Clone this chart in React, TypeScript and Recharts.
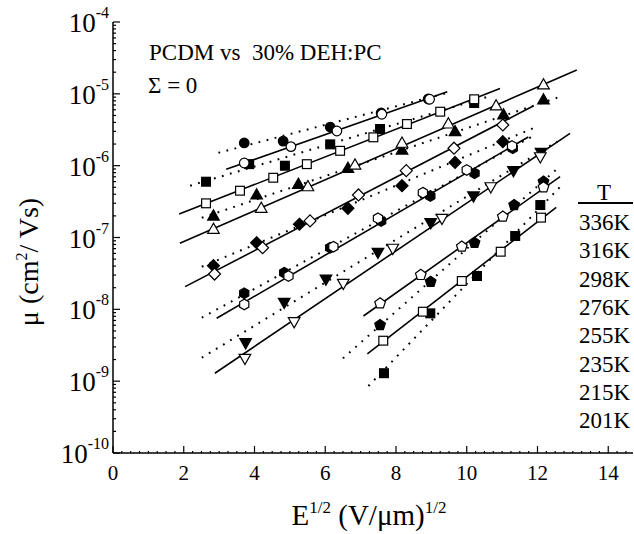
import React from 'react';
import { ScatterChart, Scatter, XAxis, YAxis } from 'recharts';

// axis ticks
const xTicks = [0, 2, 4, 6, 8, 10, 12, 14];
const yTicks = [1e-10, 1e-9, 1e-8, 1e-7, 1e-6, 1e-5, 1e-4];
const temps = ['336K', '316K', '298K', '276K', '255K', '235K', '215K', '201K'];

// [E^1/2, mobility] pairs; f = filled (dotted fit), o = open (solid fit)
const f336 = [[3.71, 2.07e-6], [4.81, 2.2e-6], [6.14, 3.45e-6], [7.58, 5.41e-6], [8.91, 8.47e-6]];
const o336 = [[3.71, 1.09e-6], [5.03, 1.84e-6], [6.33, 3.04e-6], [7.6, 5.19e-6], [8.95, 8.4e-6]];
const fitF336 = [[2.98, 1.51e-6], [9.48, 1.04e-5]];
const fitO336 = [[3.2, 8.89e-7], [9.45, 1.07e-5]];

const f316 = [[2.63, 5.98e-7], [3.85, 1.05e-6], [4.86, 9.98e-7], [6.14, 1.98e-6], [7.55, 3.24e-6], [10.21, 7.45e-6]];
const o316 = [[2.63, 2.99e-7], [3.59, 4.48e-7], [4.53, 6.79e-7], [5.48, 1.05e-6], [6.42, 1.61e-6], [7.36, 2.48e-6], [8.31, 3.8e-6], [9.25, 5.64e-6], [10.21, 8.4e-6]];
const fitF316 = [[2.18, 5.26e-7], [10.6, 9.12e-6]];
const fitO316 = [[1.87, 2.12e-7], [10.94, 1.19e-5]];

const f298 = [[2.84, 1.99e-7], [4.06, 3.91e-7], [5.24, 5.5e-7], [6.64, 9.18e-7], [8.17, 1.65e-6], [9.67, 2.97e-6], [11.04, 5.07e-6], [12.17, 8.2e-6]];
const o298 = [[2.84, 1.3e-7], [4.19, 2.55e-7], [5.51, 5.09e-7], [6.84, 1.02e-6], [8.17, 2.05e-6], [9.48, 3.8e-6], [10.83, 6.78e-6], [12.17, 1.33e-5]];
const fitF298 = [[2.51, 1.88e-7], [12.59, 8.95e-6]];
const fitO298 = [[1.89, 8.3e-8], [13.11, 2.15e-5]];

const f276 = [[2.84, 4.05e-8], [4.06, 8.45e-8], [5.27, 1.53e-7], [6.64, 2.55e-7], [8.17, 5.26e-7], [9.67, 1.11e-6], [11.02, 2.16e-6]];
const o276 = [[2.87, 3.1e-8], [4.23, 7.21e-8], [5.57, 1.7e-7], [6.94, 3.91e-7], [8.29, 8.51e-7], [9.64, 1.75e-6], [11.02, 3.68e-6]];
const fitF276 = [[2.51, 3.92e-8], [11.98, 3.48e-6]];
const fitO276 = [[2.04, 2.07e-8], [11.88, 6.78e-6]];

const f255 = [[3.71, 1.67e-8], [4.84, 3.24e-8], [6.14, 7.21e-8], [7.58, 1.7e-7], [8.97, 3.79e-7], [10.22, 7.83e-7], [11.3, 1.75e-6]];
const o255 = [[3.71, 1.17e-8], [4.96, 2.91e-8], [6.23, 7.45e-8], [7.49, 1.85e-7], [8.76, 4.21e-7], [10.0, 8.71e-7], [11.28, 1.88e-6]];
const fitF255 = [[2.51, 7.64e-9], [11.84, 2.53e-6]];
const fitO255 = [[2.93, 7.5e-9], [11.74, 2.51e-6]];

const f235 = [[3.75, 3.43e-9], [4.84, 1.25e-8], [6.02, 2.64e-8], [7.49, 6.22e-8], [8.98, 1.61e-7], [10.19, 3.79e-7], [11.32, 8.51e-7], [12.1, 1.53e-6]];
const o235 = [[3.73, 2.08e-9], [5.12, 6.73e-9], [6.51, 2.3e-8], [7.91, 7.08e-8], [9.3, 1.85e-7], [10.68, 5.09e-7], [12.08, 1.33e-6]];
const fitF235 = [[2.51, 2.12e-9], [12.55, 2.16e-6]];
const fitO235 = [[2.88, 1.29e-9], [12.92, 2.82e-6]];

const f215 = [[7.55, 6.05e-9], [8.98, 2.42e-8], [10.22, 8.45e-8], [11.34, 2.83e-7], [12.17, 5.98e-7]];
const o215 = [[7.55, 1.21e-8], [8.7, 3.01e-8], [9.86, 7.45e-8], [11.02, 1.95e-7], [12.17, 5.0e-7]];
const fitF215 = [[6.5, 2.08e-9], [12.58, 9.27e-7]];
const fitO215 = [[7.08, 8.07e-9], [12.64, 7.02e-7]];

const f201 = [[7.66, 1.29e-9], [8.97, 8.79e-9], [10.29, 2.91e-8], [11.37, 1.05e-7], [12.08, 2.83e-7]];
const o201 = [[7.64, 3.66e-9], [8.76, 9.27e-9], [9.86, 2.48e-8], [10.96, 6.34e-8], [12.1, 1.89e-7]];
const fitF201 = [[7.22, 8.55e-10], [12.69, 5.38e-7]];
const fitO201 = [[7.19, 2.39e-9], [12.53, 2.63e-7]];

const series = [
  { t: '336K', kind: 'circle', filled: f336, open: o336, fitF: fitF336, fitO: fitO336 },
  { t: '316K', kind: 'square', filled: f316, open: o316, fitF: fitF316, fitO: fitO316 },
  { t: '298K', kind: 'triUp', filled: f298, open: o298, fitF: fitF298, fitO: fitO298 },
  { t: '276K', kind: 'diamond', filled: f276, open: o276, fitF: fitF276, fitO: fitO276 },
  { t: '255K', kind: 'hexagon', filled: f255, open: o255, fitF: fitF255, fitO: fitO255 },
  { t: '235K', kind: 'triDown', filled: f235, open: o235, fitF: fitF235, fitO: fitO235 },
  { t: '215K', kind: 'pentagon', filled: f215, open: o215, fitF: fitF215, fitO: fitO215 },
  { t: '201K', kind: 'square', filled: f201, open: o201, fitF: fitF201, fitO: fitO201 },
];

const toPts = (arr: number[][]) => arr.map(([x, y]) => ({ x, y }));

const X_MAX = 14.7;
const FONT = "'Liberation Serif', 'Times New Roman', serif";

// minor ticks
const xMinor: number[] = [];
for (let v = 0; v <= X_MAX + 1e-9; v += 0.25) xMinor.push(Math.round(v * 100) / 100);
const yMinor: number[] = [];
yTicks.slice(0, -1).forEach((d) => {
  for (let m = 2; m <= 9; m++) yMinor.push(d * m);
});
const yAll = [...yTicks, ...yMinor].sort((a, b) => a - b);

const isMajorY = (v: number) => Math.abs(Math.log10(v) - Math.round(Math.log10(v))) < 1e-6;

const poly = (cx: number, cy: number, r: number, n: number, rot: number) =>
  Array.from({ length: n }, (_, i) => {
    const a = rot + (i * 2 * Math.PI) / n;
    return `${cx + r * Math.cos(a)},${cy + r * Math.sin(a)}`;
  }).join(' ');

const Marker = ({ cx, cy, kind, filled }: any) => {
  if (cx == null || cy == null) return null;
  const p = { fill: filled ? '#000' : '#fff', stroke: '#000', strokeWidth: 1.2 };
  switch (kind) {
    case 'circle':
      return <circle cx={cx} cy={cy} r={4.8} {...p} />;
    case 'square':
      return <rect x={cx - 4.4} y={cy - 4.4} width={8.8} height={8.8} {...p} />;
    case 'triUp':
      return <polygon points={`${cx},${cy - 6.2} ${cx + 5.8},${cy + 4} ${cx - 5.8},${cy + 4}`} {...p} />;
    case 'triDown':
      return <polygon points={`${cx},${cy + 6.2} ${cx + 5.8},${cy - 4} ${cx - 5.8},${cy - 4}`} {...p} />;
    case 'diamond':
      return <polygon points={`${cx},${cy - 6} ${cx + 6},${cy} ${cx},${cy + 6} ${cx - 6},${cy}`} {...p} />;
    case 'hexagon':
      return <polygon points={poly(cx, cy, 5.3, 6, -Math.PI / 2)} {...p} />;
    case 'pentagon':
      return <polygon points={poly(cx, cy, 5.6, 5, -Math.PI / 2)} {...p} />;
    default:
      return null;
  }
};

const BottomTick = ({ x, y, payload }: any) => {
  const v = payload.value;
  const major = xTicks.includes(v);
  return (
    <g>
      <line x1={x} x2={x} y1={y} y2={y - (major ? 7 : 2)} stroke="#000" strokeWidth={1.2} />
      {major && (
        <text x={x} y={y + 27} textAnchor="middle" fontSize={21} fontFamily={FONT} fill="#000">
          {v}
        </text>
      )}
    </g>
  );
};

const TopTick = ({ x, y }: any) => (
  <line x1={x} x2={x} y1={y} y2={y + 2} stroke="#000" strokeWidth={1} />
);

const LeftTick = ({ x, y, payload }: any) => {
  const v = payload.value;
  const major = isMajorY(v);
  return (
    <g>
      <line x1={x} x2={x + (major ? 7 : 3)} y1={y} y2={y} stroke="#000" strokeWidth={1.2} />
      {major && (
        <text x={x - 4} y={y + 10} textAnchor="end" fontSize={27} fontFamily={FONT} fill="#000">
          10
          <tspan dy={-14} fontSize={16}>
            {Math.round(Math.log10(v))}
          </tspan>
        </text>
      )}
    </g>
  );
};

const App = () => {
  return (
    <div style={{ position: 'absolute', left: 0, top: 0, width: 634, height: 534, background: '#fff' }}>
      <ScatterChart width={634} height={534} margin={{ top: 22, right: 1, bottom: 0, left: 0 }}>
        <XAxis
          dataKey="x"
          type="number"
          domain={[0, X_MAX]}
          ticks={xMinor}
          interval={0}
          allowDataOverflow
          tickLine={false}
          tickSize={0}
          tickMargin={0}
          tick={<BottomTick />}
          height={81}
          axisLine={{ stroke: '#000', strokeWidth: 1.5 }}
        />
        <XAxis
          xAxisId="top"
          orientation="top"
          type="number"
          domain={[0, X_MAX]}
          ticks={xMinor}
          interval={0}
          allowDataOverflow
          tickLine={false}
          tickSize={0}
          tickMargin={0}
          tick={<TopTick />}
          height={0}
          axisLine={{ stroke: '#000', strokeWidth: 1.5 }}
        />
        <YAxis
          dataKey="y"
          type="number"
          scale="log"
          domain={[1e-10, 1e-4]}
          ticks={yAll}
          interval={0}
          allowDataOverflow
          tickLine={false}
          tickSize={0}
          tickMargin={0}
          tick={<LeftTick />}
          width={113}
          axisLine={{ stroke: '#000', strokeWidth: 1.5 }}
        />
        {series.map((s) => (
          <Scatter
            key={`fitF-${s.t}`}
            data={toPts(s.fitF)}
            line={{ stroke: '#000', strokeWidth: 2, strokeDasharray: '1.8 6.5' }}
            shape={() => <g />}
            isAnimationActive={false}
          />
        ))}
        {series.map((s) => (
          <Scatter
            key={`fitO-${s.t}`}
            data={toPts(s.fitO)}
            line={{ stroke: '#000', strokeWidth: 1.6 }}
            shape={() => <g />}
            isAnimationActive={false}
          />
        ))}
        {series.map((s) => (
          <Scatter
            key={`f-${s.t}`}
            data={toPts(s.filled)}
            shape={(p: any) => <Marker cx={p.cx} cy={p.cy} kind={s.kind} filled />}
            isAnimationActive={false}
          />
        ))}
        {series.map((s) => (
          <Scatter
            key={`o-${s.t}`}
            data={toPts(s.open)}
            shape={(p: any) => <Marker cx={p.cx} cy={p.cy} kind={s.kind} filled={false} />}
            isAnimationActive={false}
          />
        ))}
      </ScatterChart>
      <svg
        width={634}
        height={534}
        style={{ position: 'absolute', left: 0, top: 0, pointerEvents: 'none' }}
        fontFamily={FONT}
      >
        <text x={149} y={60} fontSize={23} style={{ whiteSpace: 'pre' }}>
          PCDM vs  30% DEH:PC
        </text>
        <text x={148} y={93} fontSize={23}>
          Σ = 0
        </text>
        <text x={369} y={525} textAnchor="middle" fontSize={29}>
          E<tspan dy={-12} fontSize={17}>1/2</tspan>
          <tspan dy={12}> (V/μm)</tspan>
          <tspan dy={-12} fontSize={17}>1/2</tspan>
        </text>
        <text transform="translate(38,262) rotate(-90)" textAnchor="middle" fontSize={28}>
          μ (cm<tspan dy={-11} fontSize={16}>2</tspan>
          <tspan dy={11}>/ Vs)</tspan>
        </text>
        <text x={604} y={200} textAnchor="middle" fontSize={23}>
          T
        </text>
        <line x1={578} x2={633} y1={203} y2={203} stroke="#000" strokeWidth={2} />
        {temps.map((t, i) => (
          <text key={t} x={579} y={230 + i * 28.3} fontSize={23}>
            {t}
          </text>
        ))}
      </svg>
    </div>
  );
};

export default App;
